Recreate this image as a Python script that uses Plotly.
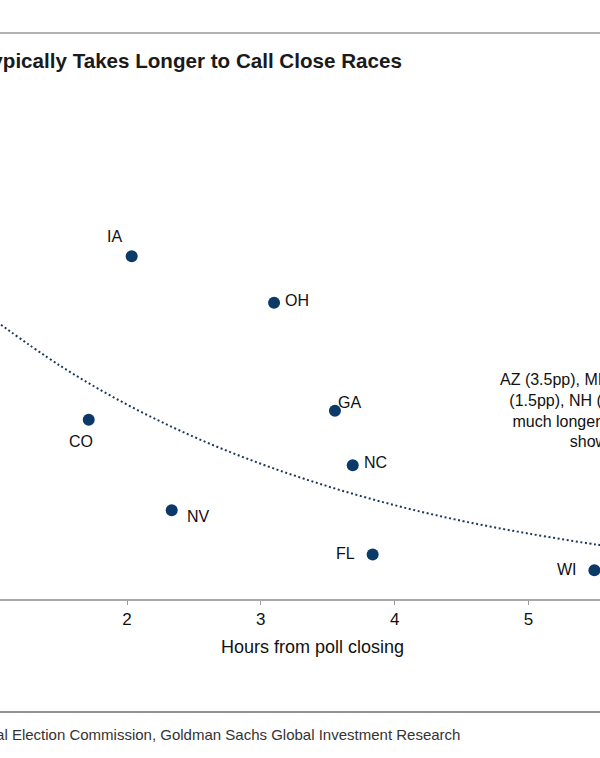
import plotly.graph_objects as go

# Data (2016 presidential race: hours from poll closing to call vs. winning margin, pp)
states = ["IA", "OH", "CO", "GA", "NC", "NV", "FL", "WI"]
hours = [2.035, 3.099, 1.714, 3.554, 3.687, 2.334, 3.836, 5.493]
margin = [9.41, 8.13, 4.91, 5.16, 3.66, 2.42, 1.20, 0.77]

# Trend line
trend_hours = [1.0, 1.5, 2.0, 2.5, 3.0, 3.5, 4.0, 4.5, 5.0, 5.5, 5.6]
trend_margin = [7.68, 6.40, 5.33, 4.44, 3.70, 3.08, 2.56, 2.13, 1.78, 1.48, 1.43]

x_ticks = [1, 2, 3, 4, 5]

# label offsets (pixels) relative to each dot
label_dx = [-17, 23, -8, 15, 23, 27, -27, -27]
label_dy = [20, 2, -22, 8, 3, -6, 1, 1]

title = "It Typically Takes Longer to Call Close Races"
source = "Source: Federal Election Commission, Goldman Sachs Global Investment Research"
note = "AZ (3.5pp), MI (0.2pp), MN<br>(1.5pp), NH (0.4pp) took<br>much longer to call (not<br>shown)"

W, H = 600, 758
ML, MR, MT, MB = 0, 0, 161, 159
PH = H - MT - MB


def px(x):
    return x / W


def py(y):
    return (H - MB - y) / PH


fig = go.Figure()
fig.add_trace(go.Scatter(
    x=trend_hours, y=trend_margin, mode="lines",
    line=dict(color="#1d3a5c", width=2, dash="2px,2.6px", shape="spline"),
    hoverinfo="skip", showlegend=False,
))
fig.add_trace(go.Scatter(
    x=hours, y=margin, mode="markers",
    marker=dict(size=12, color="#0b3a68"),
    cliponaxis=False, showlegend=False,
))

sans = "Liberation Sans, Arial, sans-serif"
label_font = dict(family=sans, size=16, color="#111111")
anns = []
for s, xv, yv, dx, dy in zip(states, hours, margin, label_dx, label_dy):
    anns.append(dict(x=xv, y=yv, xref="x", yref="y", text=s, showarrow=False,
                     xshift=dx, yshift=dy, font=label_font,
                     xanchor="center", yanchor="middle"))

anns.append(dict(x=px(595.6), y=py(410.5), xref="paper", yref="paper", text=note,
                 showarrow=False, align="center", xanchor="center", yanchor="middle",
                 font=label_font))
anns.append(dict(x=px(312), y=py(647), xref="paper", yref="paper",
                 text="Hours from poll closing", showarrow=False,
                 xanchor="center", yanchor="middle",
                 font=dict(family=sans, size=18, color="#111111")))
anns.append(dict(x=px(404), y=py(61), xref="paper", yref="paper", text="<b>" + title + "</b>",
                 showarrow=False, xanchor="right", yanchor="middle",
                 font=dict(family=sans, size=20.6, color="#1a1a1a")))
anns.append(dict(x=px(462), y=py(734), xref="paper", yref="paper", text=source,
                 showarrow=False, xanchor="right", yanchor="middle",
                 font=dict(family=sans, size=15, color="#333333")))

shapes = [
    dict(type="line", xref="paper", yref="paper", x0=0, x1=1, y0=py(33), y1=py(33),
         line=dict(color="#9a9a9a", width=1.5)),
    dict(type="line", xref="paper", yref="paper", x0=0, x1=1, y0=py(712), y1=py(712),
         line=dict(color="#6e6e6e", width=1.5)),
]

fig.update_layout(
    width=W, height=H,
    margin=dict(l=ML, r=MR, t=MT, b=MB, pad=0),
    paper_bgcolor="white", plot_bgcolor="white",
    annotations=anns, shapes=shapes, showlegend=False,
    xaxis=dict(range=[1.0508, 5.535], tickvals=x_ticks, ticks="outside", ticklen=4,
               tickcolor="#9a9a9a", tickwidth=1, showline=True, linecolor="#a8a8a8",
               linewidth=2, showgrid=False, zeroline=False,
               tickfont=dict(family=sans, size=17, color="#111111")),
    yaxis=dict(range=[-0.022, 12.034], visible=False, showgrid=False, zeroline=False),
)

fig.write_html(
    "out.html",
    config={"displayModeBar": False},
    post_script="document.body.style.margin='0';document.body.style.overflow='hidden';",
)
